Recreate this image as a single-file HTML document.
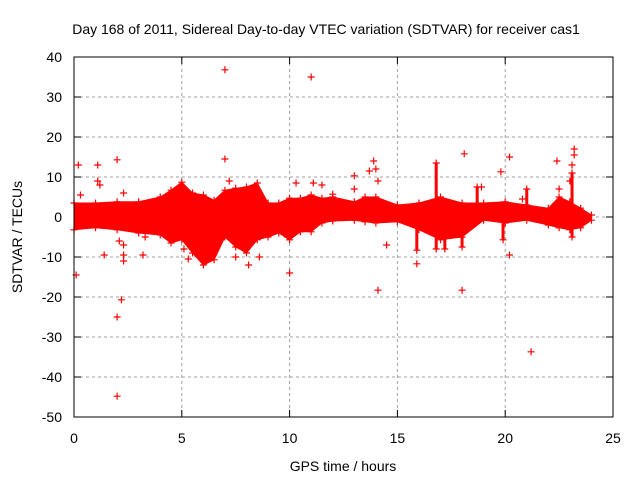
<!DOCTYPE html>
<html><head><meta charset="utf-8"><style>
body{margin:0;background:#fff;}
svg{display:block;font-family:"Liberation Sans",sans-serif;}
</style></head><body>
<svg id="chart" width="640" height="480">
<rect width="640" height="480" fill="#fff"/>
<text x="326" y="34" font-size="14" text-anchor="middle">Day 168 of 2011, Sidereal Day-to-day VTEC variation (SDTVAR) for receiver cas1</text>
<text x="343" y="471" font-size="14" text-anchor="middle">GPS time / hours</text>
<text transform="translate(22,237) rotate(-90)" font-size="14" text-anchor="middle">SDTVAR / TECUs</text>
<g id="grid"></g><g id="ticks"></g><g id="marks"></g>
<rect x="74" y="57" width="539" height="360" fill="none" stroke="#000" stroke-width="1"/>
</svg>
<script>
const xTicks=[0,5,10,15,20,25];
const yTicks=[-50,-40,-30,-20,-10,0,10,20,30,40];
const bandHours=[0,1,2,3,4,4.5,5,5.5,6,6.5,7,7.5,8,8.5,9,9.5,10,10.5,11,11.5,12,13,13.5,14,15,16,17,18,19,20,21,22,22.5,23,23.5,24];
const bandUpper=[3.5,3.5,3.8,3.8,5,6.7,8.7,6,5.5,4.2,6.7,7.2,7.5,8.5,3.5,3.5,4.7,4.7,5.5,4.7,5,3.8,5,5,3,3.5,5,3.5,3.5,3.8,3,2.2,5,3.8,2.2,0.5];
const bandLower=[-3.2,-2.7,-3.2,-4,-4.5,-6.5,-5.7,-9,-12,-10.7,-5,-7.5,-9,-5.7,-5,-4,-5.7,-3.7,-3.7,-1.5,-1,-0.8,-1.2,-1.5,-1.2,-3.2,-5.7,-5,-0.8,-1.5,-0.8,-2,-2.7,-3.2,-2.7,-0.8];
const spikeHours=[15.9,16.8,17.2,18.0,18.7,19.9,21.0,23.1];
const spikeTop=[0,13.5,0,0,7.5,0,7,11];
const spikeBottom=[-8.3,-8,-8,-7.5,0,-5.7,0,-5];
const outHours=[0.2,0.1,0.3,1.1,1.1,1.2,2.0,2.1,2.3,2.3,2.3,2.2,2.0,2.0,2.3,1.4,3.2,3.3,5.1,5.3,7.0,7.0,7.2,7.5,8.1,8.6,10.0,9.9,10.3,11.0,11.1,11.5,12.0,13.0,13.0,13.7,13.9,14.0,14.1,14.1,14.5,15.9,18.1,18.0,18.9,19.8,20.2,20.2,20.8,21.2,22.4,22.5,23.2,23.2,23.1,23.0];
const outValues=[13,-14.5,5.5,13,9,8,14.3,-6,-7,-9.5,-11,-20.7,-25,-44.8,6,-9.5,-9.5,-5,-8,-10.5,36.8,14.5,9,-10,-12,-10,-14,-5,8.5,35,8.5,8,5.7,10.3,7,11.5,14,12,9,-18.3,-7,-11.7,15.8,-18.3,7.5,11.3,15,-9.5,4.5,-33.7,14,7,17,15.5,13,9];
const X=h=>74+h*(539/25);
const Y=v=>217-v*4;
const NS="http://www.w3.org/2000/svg";
const grid=document.getElementById('grid'),ticks=document.getElementById('ticks'),marks=document.getElementById('marks');
function mk(tag,attrs,parent){const e=document.createElementNS(NS,tag);for(const k in attrs)e.setAttribute(k,attrs[k]);parent.appendChild(e);return e;}
xTicks.forEach(t=>{
  const x=X(t);
  if(t>0&&t<25){const g=mk('line',{x1:x,x2:x,y1:57,y2:417,stroke:'#a0a0a0','stroke-dasharray':'3,3'},grid);
  
  }
  mk('line',{x1:x,x2:x,y1:417,y2:410,stroke:'#000'},ticks);
  mk('line',{x1:x,x2:x,y1:57,y2:64,stroke:'#000'},ticks);
  const l=mk('text',{x:x,y:443,'font-size':14,'text-anchor':'middle'},ticks);l.textContent=t;
  
  
});
yTicks.forEach(t=>{
  const y=Y(t);
  if(t>-50&&t<40){const g=mk('line',{x1:74,x2:613,y1:y,y2:y,stroke:'#a0a0a0','stroke-dasharray':'3,3'},grid);
  
  }
  mk('line',{x1:74,x2:81,y1:y,y2:y,stroke:'#000'},ticks);
  mk('line',{x1:613,x2:606,y1:y,y2:y,stroke:'#000'},ticks);
  const l=mk('text',{x:62,y:y+5,'font-size':14,'text-anchor':'end'},ticks);l.textContent=t;
  
  
});
function plus(h,v,name){
  const x=X(h),y=Y(v);
  const p=mk('path',{d:`M${x-3.5},${y}H${x+3.5}M${x},${y-3.5}V${y+3.5}`,stroke:'#f00','stroke-width':1.2},marks);
  
  
}
let pts=bandHours.map((h,i)=>X(h)+','+Y(bandUpper[i]));
pts=pts.concat(bandHours.map((h,i)=>X(h)+','+Y(bandLower[i])).reverse());
const band=mk('polygon',{points:pts.join(' '),fill:'#f00',stroke:'#f00','stroke-width':1,'stroke-linejoin':'round'},marks);


bandHours.forEach((h,i)=>{plus(h,bandUpper[i],'band-point');plus(h,bandLower[i],'band-point');});
spikeHours.forEach((h,i)=>{
  const s=mk('line',{x1:X(h),x2:X(h),y1:Y(spikeTop[i]),y2:Y(spikeBottom[i]),stroke:'#f00','stroke-width':3},marks);
  
  
  plus(h,spikeTop[i],'spike-point');plus(h,spikeBottom[i],'spike-point');
});
outHours.forEach((h,i)=>plus(h,outValues[i],'outlier-point'));
</script>
</body></html>
